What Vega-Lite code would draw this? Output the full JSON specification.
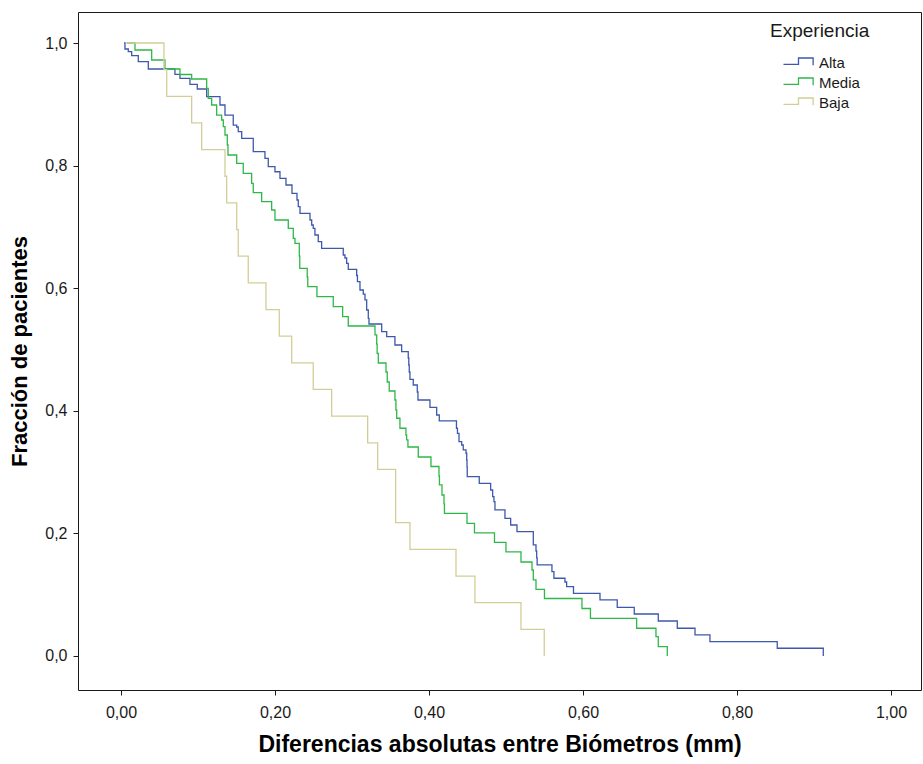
{
  "$schema": "https://vega.github.io/schema/vega-lite/v6.json",
  "width": 843,
  "height": 678,
  "autosize": {"type": "none"},
  "padding": {"left": 78, "top": 12, "right": 2, "bottom": 74},
  "background": "#ffffff",
  "config": {
    "font": "Liberation Sans",
    "view": {"stroke": "#1a1a1a", "strokeWidth": 1},
    "axis": {"grid": false, "domain": false, "tickColor": "#1a1a1a", "tickSize": 5, "labelColor": "#1a1a1a", "labelFontSize": 16, "labelFont": "Liberation Sans", "titleFont": "Liberation Sans", "titleFontSize": 22, "titleFontWeight": "bold", "titleColor": "#000000"}
  },
  "datasets": {
    "curves": [
      {"Experiencia": "Alta", "d": 0.0039, "f": 1.0},
      {"Experiencia": "Alta", "d": 0.0052, "f": 0.9902},
      {"Experiencia": "Alta", "d": 0.0095, "f": 0.9858},
      {"Experiencia": "Alta", "d": 0.0139, "f": 0.9793},
      {"Experiencia": "Alta", "d": 0.0225, "f": 0.9695},
      {"Experiencia": "Alta", "d": 0.0355, "f": 0.9576},
      {"Experiencia": "Alta", "d": 0.0701, "f": 0.9489},
      {"Experiencia": "Alta", "d": 0.0766, "f": 0.9424},
      {"Experiencia": "Alta", "d": 0.0896, "f": 0.9326},
      {"Experiencia": "Alta", "d": 0.0991, "f": 0.9250},
      {"Experiencia": "Alta", "d": 0.1113, "f": 0.9124},
      {"Experiencia": "Alta", "d": 0.1286, "f": 0.8989},
      {"Experiencia": "Alta", "d": 0.1351, "f": 0.8825},
      {"Experiencia": "Alta", "d": 0.1458, "f": 0.8662},
      {"Experiencia": "Alta", "d": 0.1503, "f": 0.8630},
      {"Experiencia": "Alta", "d": 0.1523, "f": 0.8553},
      {"Experiencia": "Alta", "d": 0.1568, "f": 0.8445},
      {"Experiencia": "Alta", "d": 0.1718, "f": 0.8227},
      {"Experiencia": "Alta", "d": 0.1870, "f": 0.8119},
      {"Experiencia": "Alta", "d": 0.1913, "f": 0.7982},
      {"Experiencia": "Alta", "d": 0.2000, "f": 0.7900},
      {"Experiencia": "Alta", "d": 0.2065, "f": 0.7793},
      {"Experiencia": "Alta", "d": 0.2143, "f": 0.7684},
      {"Experiencia": "Alta", "d": 0.2221, "f": 0.7548},
      {"Experiencia": "Alta", "d": 0.2286, "f": 0.7439},
      {"Experiencia": "Alta", "d": 0.2303, "f": 0.7330},
      {"Experiencia": "Alta", "d": 0.2325, "f": 0.7222},
      {"Experiencia": "Alta", "d": 0.2455, "f": 0.7113},
      {"Experiencia": "Alta", "d": 0.2477, "f": 0.7031},
      {"Experiencia": "Alta", "d": 0.2497, "f": 0.6977},
      {"Experiencia": "Alta", "d": 0.2519, "f": 0.6868},
      {"Experiencia": "Alta", "d": 0.2562, "f": 0.6759},
      {"Experiencia": "Alta", "d": 0.2606, "f": 0.6651},
      {"Experiencia": "Alta", "d": 0.2887, "f": 0.6542},
      {"Experiencia": "Alta", "d": 0.2909, "f": 0.6493},
      {"Experiencia": "Alta", "d": 0.2931, "f": 0.6406},
      {"Experiencia": "Alta", "d": 0.2952, "f": 0.6308},
      {"Experiencia": "Alta", "d": 0.3061, "f": 0.6207},
      {"Experiencia": "Alta", "d": 0.3071, "f": 0.6106},
      {"Experiencia": "Alta", "d": 0.3104, "f": 0.5971},
      {"Experiencia": "Alta", "d": 0.3147, "f": 0.5905},
      {"Experiencia": "Alta", "d": 0.3169, "f": 0.5808},
      {"Experiencia": "Alta", "d": 0.3191, "f": 0.5644},
      {"Experiencia": "Alta", "d": 0.3212, "f": 0.5509},
      {"Experiencia": "Alta", "d": 0.3221, "f": 0.5416},
      {"Experiencia": "Alta", "d": 0.3386, "f": 0.5290},
      {"Experiencia": "Alta", "d": 0.3451, "f": 0.5209},
      {"Experiencia": "Alta", "d": 0.3558, "f": 0.5073},
      {"Experiencia": "Alta", "d": 0.3645, "f": 0.4964},
      {"Experiencia": "Alta", "d": 0.3731, "f": 0.4861},
      {"Experiencia": "Alta", "d": 0.3738, "f": 0.4747},
      {"Experiencia": "Alta", "d": 0.3744, "f": 0.4633},
      {"Experiencia": "Alta", "d": 0.3753, "f": 0.4514},
      {"Experiencia": "Alta", "d": 0.3796, "f": 0.4421},
      {"Experiencia": "Alta", "d": 0.3848, "f": 0.4307},
      {"Experiencia": "Alta", "d": 0.3857, "f": 0.4176},
      {"Experiencia": "Alta", "d": 0.4013, "f": 0.4057},
      {"Experiencia": "Alta", "d": 0.4100, "f": 0.3931},
      {"Experiencia": "Alta", "d": 0.4134, "f": 0.3834},
      {"Experiencia": "Alta", "d": 0.4357, "f": 0.3715},
      {"Experiencia": "Alta", "d": 0.4370, "f": 0.3633},
      {"Experiencia": "Alta", "d": 0.4390, "f": 0.3496},
      {"Experiencia": "Alta", "d": 0.4425, "f": 0.3442},
      {"Experiencia": "Alta", "d": 0.4445, "f": 0.3361},
      {"Experiencia": "Alta", "d": 0.4481, "f": 0.3307},
      {"Experiencia": "Alta", "d": 0.4490, "f": 0.3197},
      {"Experiencia": "Alta", "d": 0.4494, "f": 0.3083},
      {"Experiencia": "Alta", "d": 0.4497, "f": 0.2925},
      {"Experiencia": "Alta", "d": 0.4653, "f": 0.2817},
      {"Experiencia": "Alta", "d": 0.4801, "f": 0.2708},
      {"Experiencia": "Alta", "d": 0.4827, "f": 0.2599},
      {"Experiencia": "Alta", "d": 0.4844, "f": 0.2517},
      {"Experiencia": "Alta", "d": 0.4857, "f": 0.2382},
      {"Experiencia": "Alta", "d": 0.4987, "f": 0.2246},
      {"Experiencia": "Alta", "d": 0.5061, "f": 0.2137},
      {"Experiencia": "Alta", "d": 0.5143, "f": 0.2028},
      {"Experiencia": "Alta", "d": 0.5355, "f": 0.1811},
      {"Experiencia": "Alta", "d": 0.5390, "f": 0.1713},
      {"Experiencia": "Alta", "d": 0.5399, "f": 0.1599},
      {"Experiencia": "Alta", "d": 0.5405, "f": 0.1485},
      {"Experiencia": "Alta", "d": 0.5597, "f": 0.1375},
      {"Experiencia": "Alta", "d": 0.5623, "f": 0.1268},
      {"Experiencia": "Alta", "d": 0.5766, "f": 0.1207},
      {"Experiencia": "Alta", "d": 0.5788, "f": 0.1131},
      {"Experiencia": "Alta", "d": 0.5877, "f": 0.1020},
      {"Experiencia": "Alta", "d": 0.6221, "f": 0.0914},
      {"Experiencia": "Alta", "d": 0.6445, "f": 0.0794},
      {"Experiencia": "Alta", "d": 0.6666, "f": 0.0685},
      {"Experiencia": "Alta", "d": 0.6978, "f": 0.0571},
      {"Experiencia": "Alta", "d": 0.7225, "f": 0.0452},
      {"Experiencia": "Alta", "d": 0.7455, "f": 0.0343},
      {"Experiencia": "Alta", "d": 0.7649, "f": 0.0233},
      {"Experiencia": "Alta", "d": 0.8523, "f": 0.0126},
      {"Experiencia": "Alta", "d": 0.9121, "f": 0.0},
      {"Experiencia": "Media", "d": 0.0074, "f": 1.0},
      {"Experiencia": "Media", "d": 0.0182, "f": 0.9886},
      {"Experiencia": "Media", "d": 0.0399, "f": 0.9723},
      {"Experiencia": "Media", "d": 0.0571, "f": 0.9576},
      {"Experiencia": "Media", "d": 0.0766, "f": 0.9486},
      {"Experiencia": "Media", "d": 0.0918, "f": 0.9413},
      {"Experiencia": "Media", "d": 0.1113, "f": 0.9261},
      {"Experiencia": "Media", "d": 0.1134, "f": 0.9098},
      {"Experiencia": "Media", "d": 0.1178, "f": 0.8989},
      {"Experiencia": "Media", "d": 0.1243, "f": 0.8825},
      {"Experiencia": "Media", "d": 0.1308, "f": 0.8744},
      {"Experiencia": "Media", "d": 0.1329, "f": 0.8635},
      {"Experiencia": "Media", "d": 0.1351, "f": 0.8499},
      {"Experiencia": "Media", "d": 0.1381, "f": 0.8336},
      {"Experiencia": "Media", "d": 0.1390, "f": 0.8173},
      {"Experiencia": "Media", "d": 0.1503, "f": 0.8038},
      {"Experiencia": "Media", "d": 0.1588, "f": 0.7874},
      {"Experiencia": "Media", "d": 0.1697, "f": 0.7711},
      {"Experiencia": "Media", "d": 0.1718, "f": 0.7558},
      {"Experiencia": "Media", "d": 0.1827, "f": 0.7411},
      {"Experiencia": "Media", "d": 0.1957, "f": 0.7276},
      {"Experiencia": "Media", "d": 0.2000, "f": 0.7113},
      {"Experiencia": "Media", "d": 0.2173, "f": 0.6977},
      {"Experiencia": "Media", "d": 0.2238, "f": 0.6814},
      {"Experiencia": "Media", "d": 0.2260, "f": 0.6732},
      {"Experiencia": "Media", "d": 0.2316, "f": 0.6525},
      {"Experiencia": "Media", "d": 0.2322, "f": 0.6325},
      {"Experiencia": "Media", "d": 0.2419, "f": 0.6183},
      {"Experiencia": "Media", "d": 0.2426, "f": 0.6025},
      {"Experiencia": "Media", "d": 0.2545, "f": 0.5861},
      {"Experiencia": "Media", "d": 0.2757, "f": 0.5698},
      {"Experiencia": "Media", "d": 0.2879, "f": 0.5535},
      {"Experiencia": "Media", "d": 0.2952, "f": 0.5383},
      {"Experiencia": "Media", "d": 0.3299, "f": 0.5237},
      {"Experiencia": "Media", "d": 0.3321, "f": 0.5090},
      {"Experiencia": "Media", "d": 0.3327, "f": 0.4938},
      {"Experiencia": "Media", "d": 0.3342, "f": 0.4780},
      {"Experiencia": "Media", "d": 0.3442, "f": 0.4633},
      {"Experiencia": "Media", "d": 0.3458, "f": 0.4470},
      {"Experiencia": "Media", "d": 0.3484, "f": 0.4323},
      {"Experiencia": "Media", "d": 0.3558, "f": 0.4176},
      {"Experiencia": "Media", "d": 0.3571, "f": 0.4013},
      {"Experiencia": "Media", "d": 0.3581, "f": 0.3878},
      {"Experiencia": "Media", "d": 0.3623, "f": 0.3715},
      {"Experiencia": "Media", "d": 0.3701, "f": 0.3605},
      {"Experiencia": "Media", "d": 0.3710, "f": 0.3524},
      {"Experiencia": "Media", "d": 0.3727, "f": 0.3409},
      {"Experiencia": "Media", "d": 0.3861, "f": 0.3246},
      {"Experiencia": "Media", "d": 0.4026, "f": 0.3091},
      {"Experiencia": "Media", "d": 0.4130, "f": 0.2936},
      {"Experiencia": "Media", "d": 0.4136, "f": 0.2790},
      {"Experiencia": "Media", "d": 0.4169, "f": 0.2626},
      {"Experiencia": "Media", "d": 0.4195, "f": 0.2480},
      {"Experiencia": "Media", "d": 0.4201, "f": 0.2328},
      {"Experiencia": "Media", "d": 0.4494, "f": 0.2162},
      {"Experiencia": "Media", "d": 0.4591, "f": 0.2007},
      {"Experiencia": "Media", "d": 0.4851, "f": 0.1852},
      {"Experiencia": "Media", "d": 0.5000, "f": 0.1697},
      {"Experiencia": "Media", "d": 0.5195, "f": 0.1533},
      {"Experiencia": "Media", "d": 0.5338, "f": 0.1403},
      {"Experiencia": "Media", "d": 0.5355, "f": 0.1240},
      {"Experiencia": "Media", "d": 0.5390, "f": 0.1088},
      {"Experiencia": "Media", "d": 0.5500, "f": 0.0938},
      {"Experiencia": "Media", "d": 0.5987, "f": 0.0775},
      {"Experiencia": "Media", "d": 0.6097, "f": 0.0615},
      {"Experiencia": "Media", "d": 0.6697, "f": 0.0452},
      {"Experiencia": "Media", "d": 0.6948, "f": 0.0315},
      {"Experiencia": "Media", "d": 0.6978, "f": 0.0152},
      {"Experiencia": "Media", "d": 0.7095, "f": 0.0},
      {"Experiencia": "Baja", "d": 0.0074, "f": 1.0},
      {"Experiencia": "Baja", "d": 0.0558, "f": 0.9565},
      {"Experiencia": "Baja", "d": 0.0594, "f": 0.9130},
      {"Experiencia": "Baja", "d": 0.0918, "f": 0.8696},
      {"Experiencia": "Baja", "d": 0.1048, "f": 0.8261},
      {"Experiencia": "Baja", "d": 0.1351, "f": 0.7826},
      {"Experiencia": "Baja", "d": 0.1373, "f": 0.7391},
      {"Experiencia": "Baja", "d": 0.1503, "f": 0.6957},
      {"Experiencia": "Baja", "d": 0.1523, "f": 0.6522},
      {"Experiencia": "Baja", "d": 0.1653, "f": 0.6087},
      {"Experiencia": "Baja", "d": 0.1883, "f": 0.5652},
      {"Experiencia": "Baja", "d": 0.2056, "f": 0.5217},
      {"Experiencia": "Baja", "d": 0.2217, "f": 0.4783},
      {"Experiencia": "Baja", "d": 0.2497, "f": 0.4348},
      {"Experiencia": "Baja", "d": 0.2736, "f": 0.3913},
      {"Experiencia": "Baja", "d": 0.3204, "f": 0.3478},
      {"Experiencia": "Baja", "d": 0.3334, "f": 0.3043},
      {"Experiencia": "Baja", "d": 0.3567, "f": 0.2174},
      {"Experiencia": "Baja", "d": 0.3753, "f": 0.1739},
      {"Experiencia": "Baja", "d": 0.4351, "f": 0.1304},
      {"Experiencia": "Baja", "d": 0.4597, "f": 0.0870},
      {"Experiencia": "Baja", "d": 0.5195, "f": 0.0435},
      {"Experiencia": "Baja", "d": 0.5497, "f": 0.0}
    ]
  },
  "data": {"name": "curves"},
  "mark": {"type": "line", "interpolate": "step-after", "strokeWidth": 1.3, "clip": true},
  "encoding": {
    "x": {
      "field": "d", "type": "quantitative",
      "scale": {"domain": [-0.0558, 1.039], "nice": false, "zero": false},
      "axis": {"values": [0, 0.2, 0.4, 0.6, 0.8, 1.0], "labelExpr": "replace(format(datum.value, '.2f'), '.', ',')", "labelPadding": 9, "title": "Diferencias absolutas entre Biómetros (mm)", "titleFontSize": 23, "titlePadding": 13}
    },
    "y": {
      "field": "f", "type": "quantitative",
      "scale": {"domain": [-0.0555, 1.0506], "nice": false, "zero": false},
      "axis": {"values": [0, 0.2, 0.4, 0.6, 0.8, 1.0], "labelExpr": "replace(format(datum.value, '.1f'), '.', ',')", "labelPadding": 6, "title": "Fracción de pacientes", "titlePadding": 13}
    },
    "color": {
      "field": "Experiencia", "type": "nominal",
      "scale": {"domain": ["Alta", "Media", "Baja"], "range": ["#3E58AC", "#2EB848", "#D3CE97"]},
      "legend": {
        "orient": "none", "legendX": 692, "legendY": 10,
        "title": "Experiencia", "titleFontSize": 19, "titleFontWeight": "normal", "titleColor": "#1a1a1a", "titlePadding": 13,
        "labelFontSize": 15, "labelColor": "#1a1a1a", "labelOffset": 12,
        "symbolType": "M-2,0.25L0,0.25L0,-0.6L1.95,-0.6L1.95,0.35", "symbolSize": 225, "symbolStrokeWidth": 1.3, "symbolFillColor": "transparent", "symbolOffset": 20,
        "rowPadding": 3, "padding": 0
      }
    }
  }
}
